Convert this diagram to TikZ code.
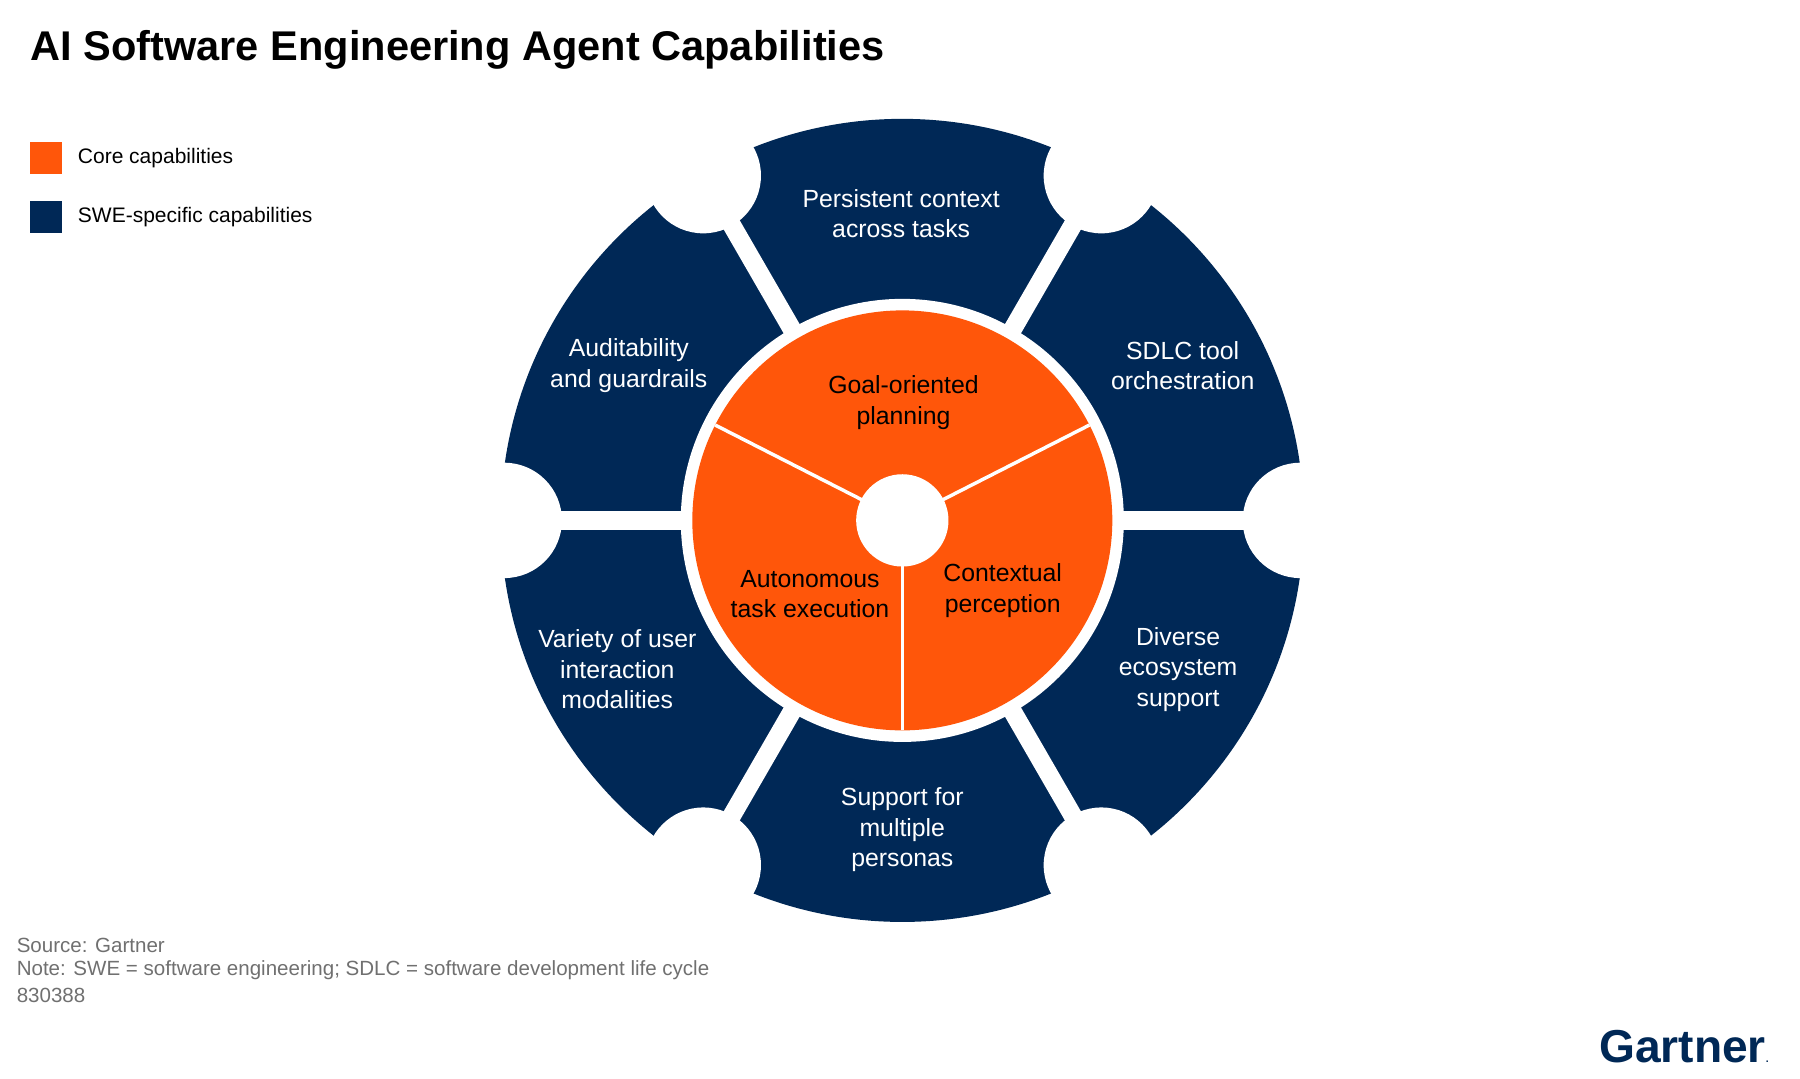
\documentclass[tikz,border=0pt]{standalone}
\usepackage{fontspec}
\setmainfont{Liberation Sans}
\definecolor{navy}{HTML}{002856}
\definecolor{orng}{HTML}{FF560A}
\definecolor{gry}{HTML}{707070}
\begin{document}
\begin{tikzpicture}[x=1pt,y=-1pt,
  wt/.style={text=white,align=center,font=\fontsize{21.5}{26.5}\selectfont},
  bt/.style={text=black,align=center,font=\fontsize{21.5}{26.5}\selectfont},
  src/.style={text=gry,anchor=west,font=\fontsize{17.8}{20}\selectfont},
  leg/.style={anchor=west,font=\fontsize{18.2}{20}\selectfont}]
\useasboundingbox (0,0) rectangle (1560,935);
\fill[white] (0,0) rectangle (1560,935);
\coordinate (c) at (782,451);
% outer ring
\fill[navy] (c) circle[radius=348];
\fill[white] (c) circle[radius=192];
\foreach \a in {0,60,120,180,240,300}{
  \draw[white,line width=16pt] (c) -- ++(\a:-360);
  \fill[white] (c) ++(\a:-345) circle[radius=50];
}
% core
\fill[orng] (c) circle[radius=182];
\foreach \a in {27,153,270}{\draw[white,line width=3pt] (c) -- ++(-\a:182);}
\fill[white] (c) circle[radius=40];
% labels
\node[bt] (g) at (783,349) {Goal-oriented\\planning};
\node[bt] (ae) at (702,515) {Autonomous\\task execution};
\node[bt] (cp) at (869,512) {Contextual\\perception};
\node[wt] (p1) at (781,185) {Persistent context\\across tasks};
\node[wt] (p2) at (1025,317) {SDLC tool\\orchestration};
\node[wt] (p3) at (1021,580) {Diverse\\ecosystem\\support};
\node[wt] (p4) at (782,719) {Support for\\multiple\\personas};
\node[wt] (p5) at (535,580) {Variety of user\\interaction\\modalities};
\node[wt] (p6) at (545,317) {Auditability\\and guardrails};
% title & legend
\node[anchor=west,font=\bfseries\fontsize{36}{40}\selectfont] (t) at (23,43) {AI Software Engineering Agent Capabilities};
\fill[orng] (26,123) rectangle (54,151);
\node[leg] (l1) at (64,137) {Core capabilities};
\fill[navy] (26,174) rectangle (54,202);
\node[leg] (l2) at (64,188) {SWE-specific capabilities};
\node[src] (s1) at (11,819) {Source: Gartner};
\node[src] (s2) at (11,841) {Note: SWE = software engineering; SDLC = software development life cycle};
\node[src] (s3) at (11,863) {830388};
\node[anchor=east,text=navy,font=\bfseries\fontsize{40}{42}\selectfont] (gl) at (1534,907) {Gartner\rlap{\fontsize{9}{9}\selectfont.}};
\end{tikzpicture}
\end{document}
